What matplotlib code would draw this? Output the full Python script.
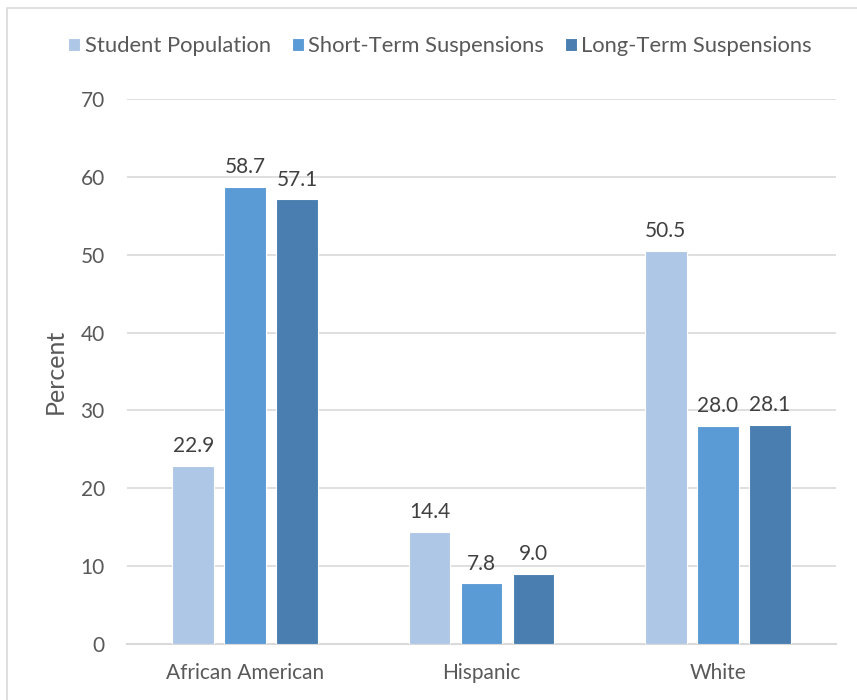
import matplotlib
matplotlib.use("Agg")
import matplotlib.pyplot as plt
import numpy as np
from matplotlib.patches import Rectangle

categories = ["African American", "Hispanic", "White"]
series_names = ["Student Population", "Short-Term Suspensions", "Long-Term Suspensions"]
student_population = [22.9, 14.4, 50.5]
short_term = [58.7, 7.8, 28.0]
long_term = [57.1, 9.0, 28.1]
y_ticks = [0, 10, 20, 30, 40, 50, 60, 70]

colors = ["#AFC7E6", "#5B9BD5", "#4A7EB0"]
text_color = "#595959"
grid_color = "#D9D9D9"

plt.rcParams["font.family"] = ["Lato", "DejaVu Sans"]

fig = plt.figure(figsize=(8.57, 7.0), dpi=100)
ax = fig.add_axes([127 / 857, 1 - 644 / 700, 709 / 857, 545 / 700])

x = np.arange(len(categories))
width = 0.175
step = 0.22
all_series = [student_population, short_term, long_term]
for i, (vals, name, col) in enumerate(zip(all_series, series_names, colors)):
    bars = ax.bar(x + (i - 1) * step, vals, width=width, color=col,
                  edgecolor="white", linewidth=0.8, label=name, zorder=3)
    for b, v in zip(bars, vals):
        ax.annotate(f"{v:.1f}", (b.get_x() + b.get_width() / 2, v),
                    xytext=(0, 7), textcoords="offset points",
                    ha="center", va="bottom", fontsize=15, color="#404040")

ax.set_xlim(-0.5, 2.5)
ax.set_ylim(0, 70)
ax.set_yticks(y_ticks)
ax.set_xticks(x)
ax.set_xticklabels(categories, fontsize=15.5)
ax.tick_params(axis="both", length=0, labelsize=15, labelcolor=text_color)
ax.tick_params(axis="y", pad=16)
ax.tick_params(axis="x", pad=14)
ax.yaxis.grid(True, color=grid_color, linewidth=1.2, zorder=0)
for s in ["top", "right", "left"]:
    ax.spines[s].set_visible(False)
ax.spines["bottom"].set_color(grid_color)
ax.spines["bottom"].set_linewidth(1.5)
ax.set_ylabel("Percent", fontsize=18, color=text_color, labelpad=10)

fig.legend(loc="center", bbox_to_anchor=(440 / 857, 1 - 46 / 700), ncol=3,
           frameon=False, fontsize=15.8, handlelength=0.55, handleheight=0.55,
           handletextpad=0.2, columnspacing=0.95, labelcolor=text_color)

fig.patches.append(Rectangle((6.5 / 857, -0.1), 1.2, 1.1 - 8 / 700,
                             transform=fig.transFigure, fill=False,
                             edgecolor=grid_color, linewidth=1.2))

fig.savefig("out.png", dpi=100)
